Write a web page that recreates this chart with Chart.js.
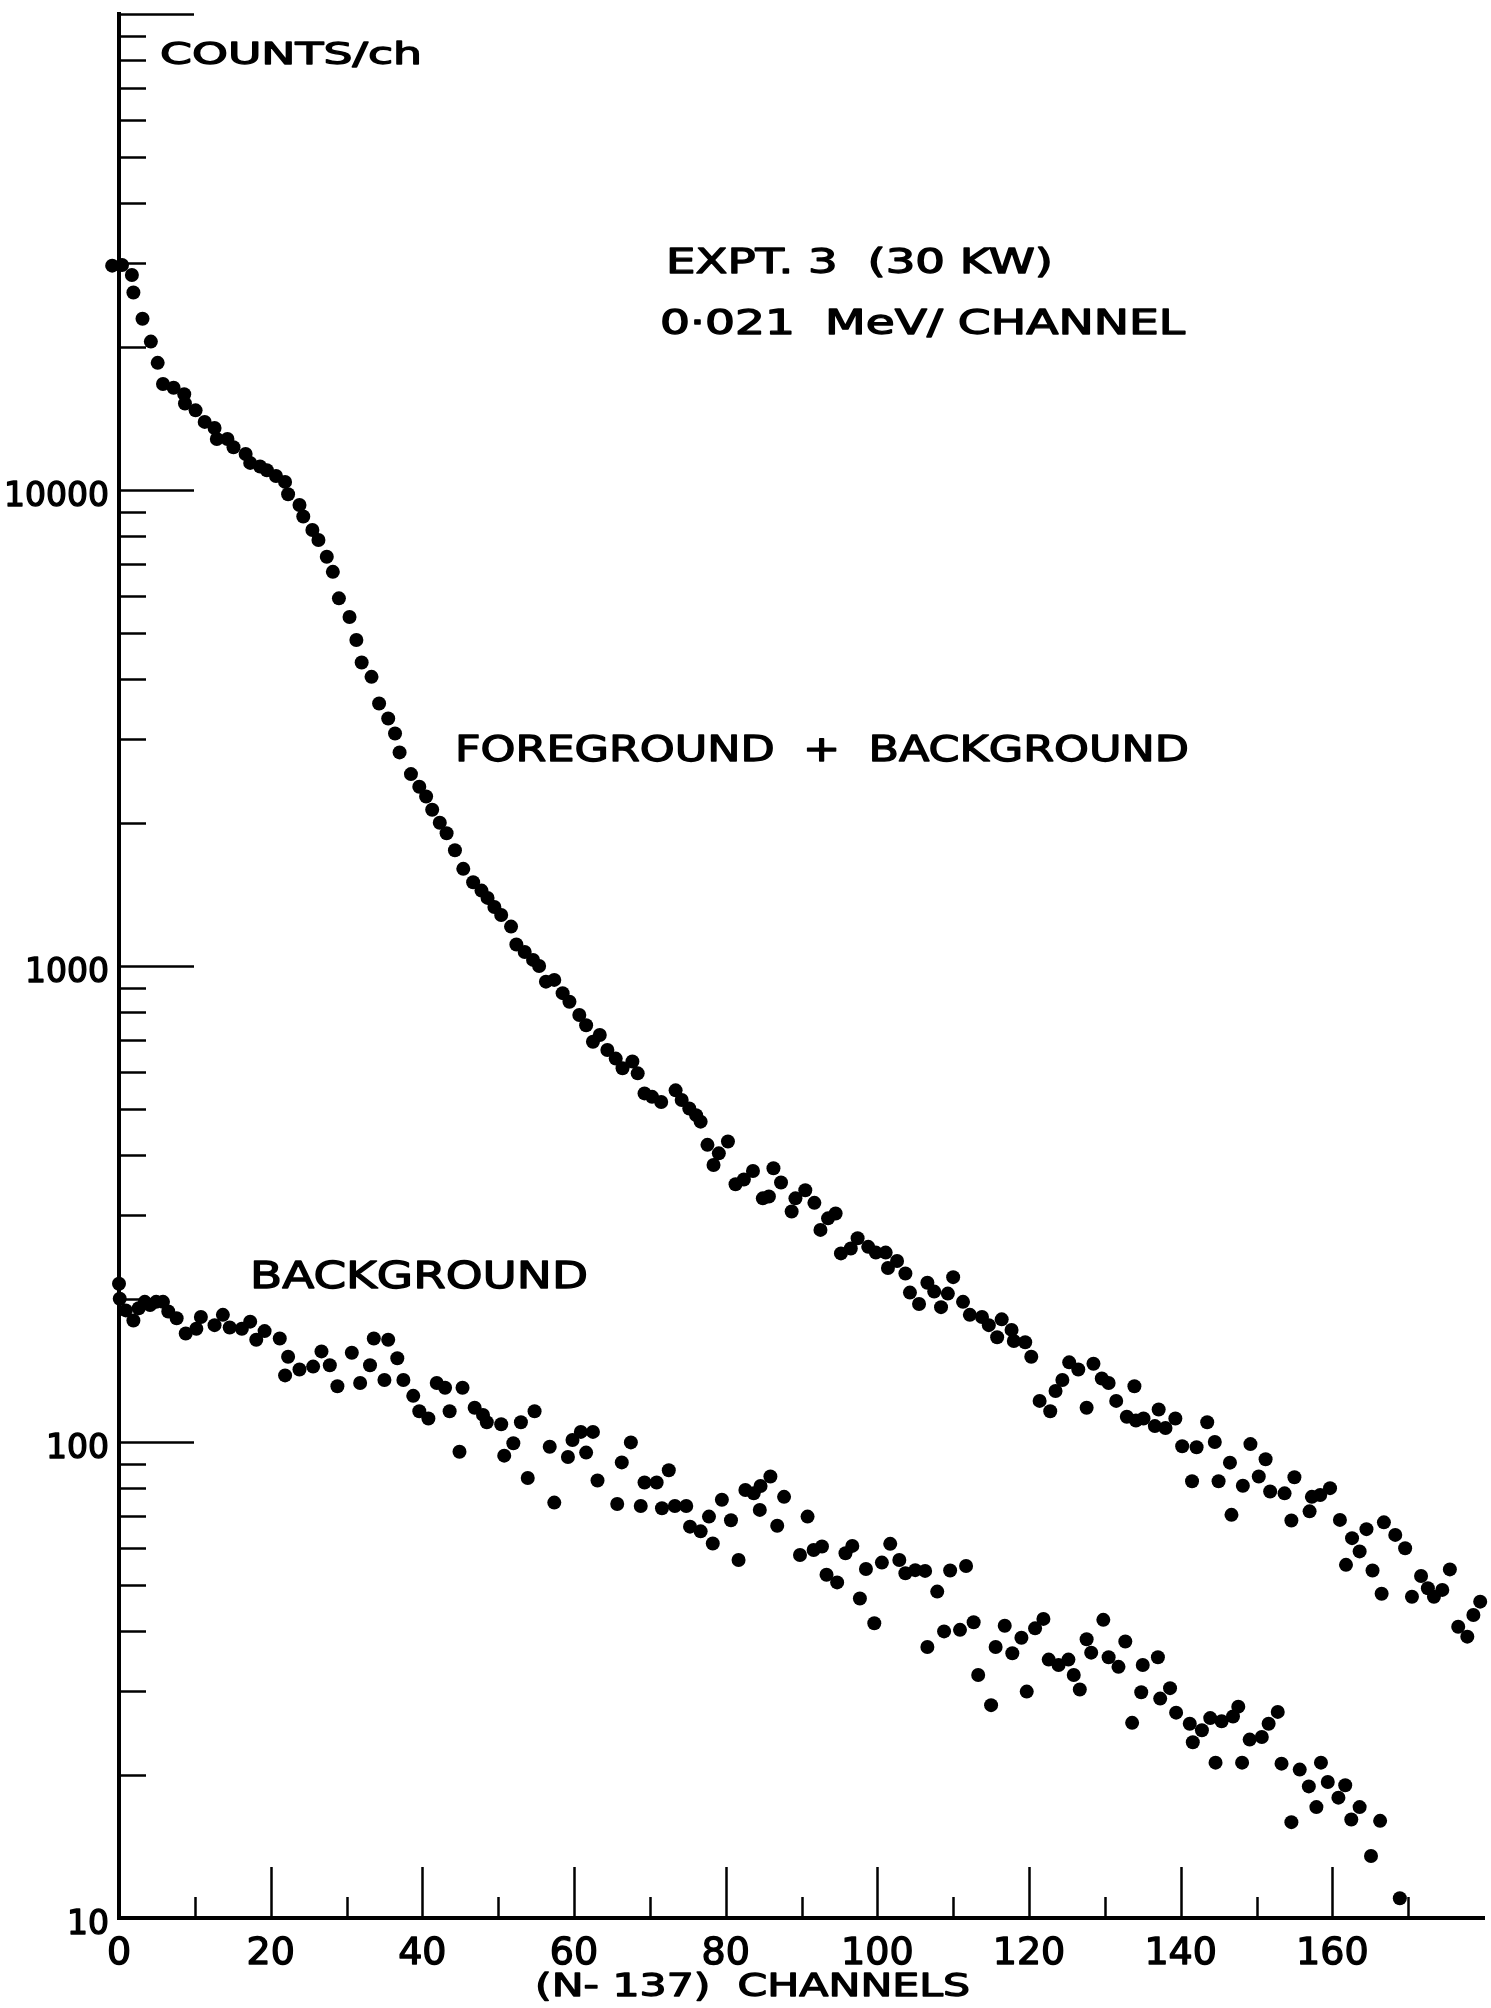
<!DOCTYPE html>
<html>
<head>
<meta charset="utf-8">
<title>Expt. 3 spectrum</title>
<script src="https://cdn.jsdelivr.net/npm/chart.js@4.4.1/dist/chart.umd.min.js"></script>
<style>
  html, body { margin: 0; padding: 0; background: #ffffff; }
  #wrap { width: 1491px; height: 2008px; position: relative; }
  canvas { display: block; }
</style>
</head>
<body>
<div id="wrap"><canvas id="spectrum"></canvas></div>
<script>
// Foreground + background counts per channel, channel number = N - 137
const fgChannels = [
  -0.9, 0.4, 1.7, 1.9, 3.1, 4.2, 5.1, 5.8, 7.2, 8.6,
  8.7, 10.1, 11.3, 12.6, 12.9, 14.3, 15.1, 16.7, 17.3, 18.6,
  19.5, 20.7, 21.9, 22.3, 23.8, 24.3, 25.5, 26.3, 27.4, 28.2,
  29.0, 30.4, 31.3, 32.0, 33.3, 34.3, 35.5, 36.4, 37.0, 38.5,
  39.6, 40.5, 41.3, 42.3, 43.2, 44.3, 45.4, 46.7, 47.8, 48.6,
  49.5, 50.4, 51.7, 52.4, 53.5, 54.6, 55.4, 56.3, 57.4, 58.5,
  59.4, 60.7, 61.6, 62.5, 63.4, 64.4, 65.5, 66.4, 67.7, 68.4,
  69.3, 70.3, 71.5, 73.4, 74.2, 75.2, 76.1, 76.7, 77.6, 78.4,
  79.1, 80.3, 81.3, 82.4, 83.6, 84.9, 85.7, 86.3, 87.3, 88.7,
  89.2, 90.5, 91.7, 92.5, 93.5, 94.5, 95.2, 96.5, 97.4, 98.8,
  99.8, 101.1, 101.4, 102.6, 103.7, 104.3, 105.5, 106.6, 107.5, 108.4,
  109.3, 110.0, 111.3, 112.2, 113.8, 114.7, 115.8, 116.4, 117.7, 118.0,
  119.5, 120.3, 121.4, 122.8, 123.5, 124.4, 125.3, 126.5, 127.6, 128.5,
  129.6, 130.5, 131.5, 132.9, 133.9, 134.1, 135.1, 136.6, 137.1, 138.0,
  139.3, 140.2, 141.5, 142.1, 143.5, 144.5, 145.0, 146.5, 146.7, 148.2,
  149.2, 150.3, 151.2, 151.8, 153.7, 154.6, 155.0, 157.0, 157.3, 158.4,
  159.7, 161.0, 161.8, 162.6, 163.6, 164.5, 165.3, 166.5, 166.8, 168.3,
  169.6, 170.5, 171.7, 172.6, 173.4, 174.5, 175.5, 176.6, 177.8, 178.6,
  179.5
];
const fgCounts = [
  29600, 29700, 28300, 26000, 22900, 20500, 18500, 16700, 16400, 15900,
  15200, 14700, 13900, 13500, 12800, 12800, 12300, 11900, 11400, 11200,
  11000, 10700, 10400, 9800, 9300, 8800, 8240, 7850, 7240, 6730,
  5920, 5410, 4840, 4340, 4050, 3560, 3310, 3080, 2810, 2530,
  2380, 2270, 2130, 2000, 1900, 1750, 1600, 1500, 1440, 1390,
  1330, 1280, 1210, 1110, 1070, 1030, 1000, 927, 935, 877,
  841, 789, 751, 693, 716, 666, 639, 610, 630, 595,
  540, 531, 518, 548, 523, 502, 486, 471, 421, 382,
  404, 428, 348, 356, 371, 325, 328, 376, 351, 305,
  325, 338, 318, 279, 295, 302, 249, 255, 268, 257,
  250, 250, 232, 240, 226, 206, 195, 216, 207, 192,
  205, 222, 197, 185, 183, 176, 166, 181, 172, 163,
  162, 151, 122, 116, 128, 135, 147, 142, 118, 146,
  136, 133, 122, 113, 131, 111, 112, 108, 117, 107,
  112, 98, 82.7, 97.5, 110, 100, 82.7, 90.5, 70.3, 80.9,
  99, 84.6, 92, 78.7, 78, 68.4, 84.3, 71.5, 76.7, 77.4,
  80, 68.6, 55.2, 62.8, 58.9, 65.6, 53.7, 48, 67.8, 63.8,
  59.8, 47.3, 52.3, 49.3, 47.3, 48.9, 54, 40.9, 39, 43.3,
  46.2
];

// Background-only counts per channel
const bgChannels = [
  0.0, 0.1, 0.9, 1.9, 2.6, 3.4, 4.1, 4.9, 5.8, 6.5,
  7.6, 8.8, 10.2, 10.8, 12.6, 13.7, 14.6, 16.2, 17.3, 18.1,
  19.2, 21.2, 21.9, 22.3, 23.8, 25.6, 26.7, 27.8, 28.8, 30.7,
  31.8, 33.1, 33.6, 35.0, 35.5, 36.7, 37.5, 38.8, 39.6, 40.8,
  41.9, 43.0, 43.6, 44.9, 45.3, 46.9, 48.0, 48.5, 50.4, 50.8,
  52.0, 53.0, 53.9, 54.8, 56.8, 57.4, 59.2, 59.8, 60.9, 61.6,
  62.5, 63.1, 65.7, 66.3, 67.5, 68.8, 69.3, 70.9, 71.6, 72.5,
  73.3, 74.8, 75.3, 76.7, 77.8, 78.3, 79.5, 80.7, 81.7, 82.6,
  83.7, 84.5, 84.6, 85.9, 86.8, 87.7, 89.8, 90.8, 91.6, 92.7,
  93.3, 94.7, 95.8, 96.7, 97.7, 98.5, 99.6, 100.6, 101.7, 102.9,
  103.7, 105.0, 106.3, 106.6, 107.9, 108.8, 109.6, 110.9, 111.7, 112.7,
  113.3, 115.0, 115.6, 116.8, 117.8, 119.0, 119.7, 120.8, 121.9, 122.6,
  123.9, 125.2, 125.9, 126.7, 127.6, 128.2, 129.8, 130.5, 131.8, 132.7,
  133.6, 134.8, 135.0, 137.0, 137.3, 138.6, 139.4, 141.2, 141.6, 142.8,
  143.9, 144.6, 145.4, 146.9, 147.6, 148.1, 149.1, 150.7, 151.6, 152.8,
  153.3, 154.6, 155.7, 156.9, 157.9, 158.5, 159.4, 160.8, 161.7, 162.5,
  163.6, 165.1, 166.3, 168.9
];
const bgCounts = [
  215, 200, 189, 180, 191, 197, 194, 197, 197, 188,
  182, 169, 173, 183, 176, 185, 174, 173, 179, 164,
  171, 165, 138, 151, 142, 144, 155, 145, 131, 154,
  133, 145, 165, 135, 164, 150, 135, 125, 116, 112,
  133, 130, 116, 95.4, 130, 118, 114, 110, 109, 93.6,
  99.4, 110, 84, 116, 97.7, 74.6, 93, 101, 105, 95,
  105, 83, 74.1, 90.6, 99.8, 73.4, 82.2, 82.2, 72.6, 87.2,
  73.4, 73.4, 66.4, 64.9, 69.7, 61.2, 75.6, 68.5, 56.5, 79.3,
  78, 72, 80.8, 84.6, 66.7, 76.7, 57.9, 69.7, 59.3, 60.3,
  52.6, 50.7, 58.4, 60.5, 46.9, 54.1, 41.6, 55.8, 61.1, 56.5,
  53, 53.8, 53.6, 37.1, 48.5, 40, 53.7, 40.3, 54.9, 41.8,
  32.4, 28, 37.1, 41.1, 36, 38.8, 29.9, 40.6, 42.5, 34.9,
  34, 34.9, 32.4, 30.2, 38.5, 36.1, 42.3, 35.3, 33.7, 38.1,
  25.7, 29.8, 34, 35.3, 28.9, 30.4, 27, 25.6, 23.4, 24.8,
  26.3, 21.2, 25.9, 26.5, 27.8, 21.2, 23.7, 24, 25.6, 27.1,
  21.1, 15.9, 20.5, 18.9, 17.1, 21.2, 19.3, 17.9, 19, 16.1,
  17.1, 13.5, 16, 11
];

// Axis ticks and labels
const xTickLabels = [0, 20, 40, 60, 80, 100, 120, 140, 160];
const xTickMarks = [10, 20, 30, 40, 50, 60, 70, 80, 90, 100, 110, 120, 130, 140, 150, 160, 170];
const yTickLabels = [10, 100, 1000, 10000];
const yDecades = [10, 100, 1000, 10000, 100000];

const LETTERING = '"DejaVu Sans", "Liberation Sans", sans-serif';

function toPoints(xs, ys) {
  return xs.map((x, i) => ({ x: x, y: ys[i] }));
}

// Pen-style lettering: filled glyphs with a thin outline to thicken strokes.
function penText(ctx, text, x, y, weight) {
  ctx.lineWidth = weight;
  ctx.lineJoin = 'round';
  ctx.fillText(text, x, y);
  ctx.strokeText(text, x, y);
}

// Draws a string whose width is stretched to a given span, left anchored.
function spanText(ctx, text, left, baseline, size, span) {
  ctx.font = size + 'px ' + LETTERING;
  const w = ctx.measureText(text).width;
  ctx.save();
  ctx.translate(left, baseline);
  ctx.scale(span / w, 1);
  ctx.textAlign = 'left';
  ctx.textBaseline = 'alphabetic';
  penText(ctx, text, 0, 0, 1.3);
  ctx.restore();
}

// Tick marks drawn inward from both axes, plus the numbers beside them.
const axisDecor = {
  id: 'axisDecor',
  afterDraw(chart) {
    const { ctx, chartArea, scales } = chart;
    const xs = scales.x, ys = scales.y;
    ctx.save();
    ctx.strokeStyle = '#000';
    ctx.fillStyle = '#000';
    ctx.lineWidth = 2.5;

    // y: long marks at each decade, short marks at 2..9 of each decade
    yDecades.forEach(d => {
      const py = Math.round(ys.getPixelForValue(d)) + 0.5;
      ctx.beginPath();
      ctx.moveTo(chartArea.left, py);
      ctx.lineTo(chartArea.left + 75, py);
      ctx.stroke();
      if (d < 100000) {
        for (let m = 2; m <= 9; m++) {
          const pm = Math.round(ys.getPixelForValue(d * m)) + 0.5;
          ctx.beginPath();
          ctx.moveTo(chartArea.left, pm);
          ctx.lineTo(chartArea.left + 27, pm);
          ctx.stroke();
        }
      }
    });

    // x: long marks every 20 channels, short ones between
    xTickMarks.forEach(v => {
      const px = Math.round(xs.getPixelForValue(v)) + 0.5;
      const len = v % 20 === 0 ? 51 : 21;
      ctx.beginPath();
      ctx.moveTo(px, chartArea.bottom);
      ctx.lineTo(px, chartArea.bottom - len);
      ctx.stroke();
    });

    // numbers on the y axis
    ctx.font = '33px ' + LETTERING;
    ctx.textAlign = 'right';
    ctx.textBaseline = 'middle';
    yTickLabels.forEach(v => {
      penText(ctx, String(v), chartArea.left - 10, ys.getPixelForValue(v) + 7, 1.4);
    });

    // numbers on the x axis
    ctx.font = '38px ' + LETTERING;
    ctx.textAlign = 'center';
    ctx.textBaseline = 'alphabetic';
    xTickLabels.forEach(v => {
      penText(ctx, String(v), xs.getPixelForValue(v), chartArea.bottom + 46, 1.4);
    });

    // axis titles and notes
    spanText(ctx, 'COUNTS/ch', 160, 64, 31, 262);
    spanText(ctx, 'EXPT. 3  (30 KW)', 666, 273, 33, 387);
    spanText(ctx, '0\u00B7021  MeV/ CHANNEL', 660, 334, 33, 525);
    spanText(ctx, 'FOREGROUND  +  BACKGROUND', 455, 761, 35, 734);
    spanText(ctx, 'BACKGROUND', 250, 1288, 37, 338);
    spanText(ctx, '(N- 137)  CHANNELS', 535, 1996, 32, 435);

    ctx.restore();
  }
};

const ctx = document.getElementById('spectrum').getContext('2d');
new Chart(ctx, {
  type: 'scatter',
  data: {
    datasets: [
      {
        label: 'Foreground + background',
        data: toPoints(fgChannels, fgCounts),
        backgroundColor: '#000',
        borderColor: '#000',
        borderWidth: 0,
        pointRadius: 7,
        clip: false
      },
      {
        label: 'Background',
        data: toPoints(bgChannels, bgCounts),
        backgroundColor: '#000',
        borderColor: '#000',
        borderWidth: 0,
        pointRadius: 7,
        clip: false
      }
    ]
  },
  options: {
    responsive: true,
    maintainAspectRatio: false,
    devicePixelRatio: 1,
    animation: false,
    events: [],
    layout: { padding: { left: 119, right: 5, top: 14, bottom: 90 } },
    plugins: {
      legend: { display: false },
      tooltip: { enabled: false },
      title: { display: false }
    },
    scales: {
      x: {
        type: 'linear',
        min: 0,
        max: 180,
        grid: { display: false, drawTicks: false },
        border: { display: true, color: '#000', width: 4 },
        ticks: { display: false },
        afterFit: s => { s.height = 0; }
      },
      y: {
        type: 'logarithmic',
        min: 10,
        max: 100000,
        grid: { display: false, drawTicks: false },
        border: { display: true, color: '#000', width: 4 },
        ticks: { display: false },
        afterFit: s => { s.width = 0; }
      }
    }
  },
  plugins: [axisDecor]
});
</script>
</body>
</html>
